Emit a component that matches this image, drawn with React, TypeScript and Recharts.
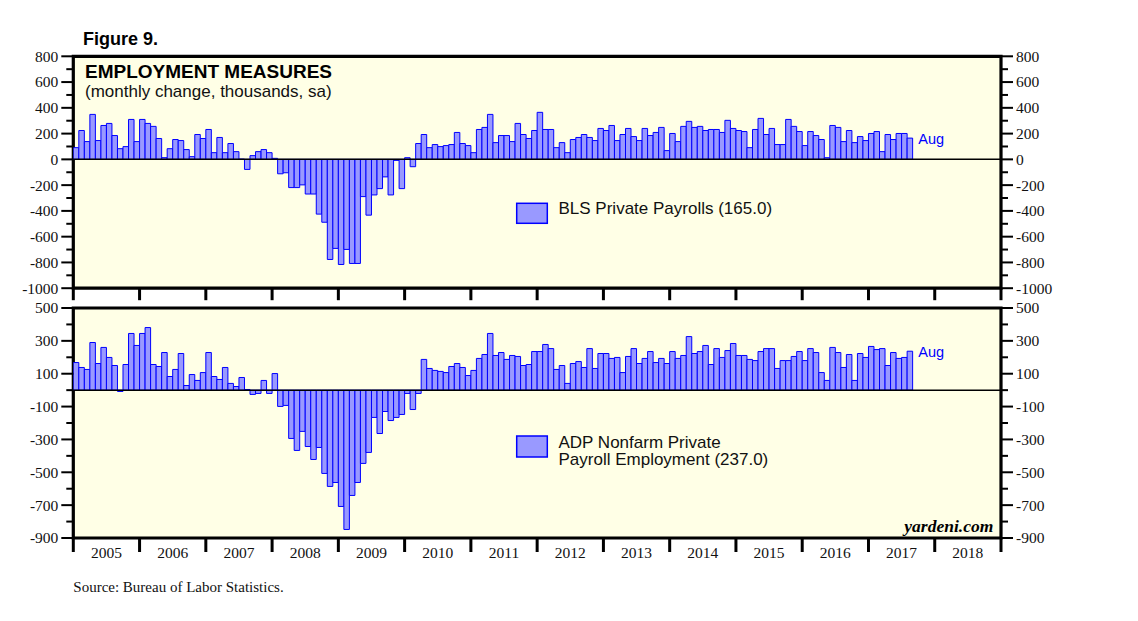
import { Bar, BarChart, ReferenceArea, ReferenceLine, XAxis, YAxis } from "recharts";

// monthly change, thousands, Jan 2005 .. Aug 2017
const START_YEAR = 2005;
const YEAR_TICKS = [2005, 2006, 2007, 2008, 2009, 2010, 2011, 2012, 2013, 2014, 2015, 2016, 2017, 2018, 2019];

const BLS = [
  91, 224, 138, 349, 146, 263, 279, 185, 83, 99, 310, 138,
  310, 279, 256, 162, 13, 83, 154, 146, 76, 21, 193, 162,
  232, 52, 170, 52, 123, 60, 2, -78, 29, 60, 76, 52,
  8, -112, -104, -219, -219, -198, -269, -269, -425, -488, -777, -691,
  -816, -699, -808, -808, -289, -433, -276, -227, -136, -276, -8, -227,
  13, -57, 123, 193, 91, 115, 99, 107, 115, 209, 123, 107,
  52, 232, 248, 349, 130, 185, 185, 138, 279, 193, 162, 224,
  365, 232, 232, 91, 130, 52, 154, 170, 193, 170, 146, 240,
  224, 263, 146, 193, 240, 177, 146, 240, 185, 209, 248, 68,
  201, 138, 256, 295, 248, 256, 224, 232, 232, 209, 303, 240,
  224, 216, 91, 232, 318, 193, 240, 115, 115, 310, 256, 216,
  107, 216, 185, 154, 13, 263, 248, 138, 224, 130, 177, 146,
  201, 216, 60, 193, 154, 201, 201, 165,
];

const ADP = [
  168, 138, 126, 290, 162, 260, 199, 150, -8, 156, 345, 272,
  345, 381, 156, 144, 229, 83, 126, 223, 28, 95, 59, 107,
  229, 83, 65, 138, 41, 22, 77, 4, -26, -20, 59, -20,
  101, -99, -93, -294, -367, -251, -343, -422, -349, -507, -586, -562,
  -708, -848, -641, -562, -446, -379, -166, -264, -130, -185, -166, -148,
  -20, -118, -20, 187, 132, 120, 114, 107, 144, 162, 138, 89,
  120, 193, 217, 345, 211, 229, 187, 211, 205, 150, 156, 235,
  235, 278, 253, 126, 150, 41, 162, 174, 138, 253, 132, 223,
  223, 193, 199, 107, 205, 253, 162, 193, 235, 168, 193, 162,
  235, 193, 211, 326, 223, 235, 272, 156, 253, 199, 241, 284,
  211, 211, 187, 180, 235, 253, 253, 132, 180, 180, 205, 235,
  180, 253, 229, 107, 59, 260, 229, 138, 217, 59, 223, 199,
  266, 247, 253, 150, 229, 193, 199, 237,
];

const BLS_TICKS = [-1000, -900, -800, -700, -600, -500, -400, -300, -200, -100, 0, 100, 200, 300, 400, 500, 600, 700, 800];
const BLS_LABELS = [-1000, -800, -600, -400, -200, 0, 200, 400, 600, 800];
const ADP_TICKS = [-900, -800, -700, -600, -500, -400, -300, -200, -100, 0, 100, 200, 300, 400, 500];
const ADP_LABELS = [-900, -700, -500, -300, -100, 100, 300, 500];

const W = 1138;
const H = 621;
const PLOT_L = 73.3;
const PLOT_R = 1001;
const YEAR_PX = (PLOT_R - PLOT_L) / 14;
const MONTH_PX = YEAR_PX / 12;
const X_AXIS_H = 20;

const SERIF = "'Liberation Serif', 'Times New Roman', serif";
const SANS = "'Liberation Sans', Arial, sans-serif";

const toRows = (vals: number[]) => vals.map((v, i) => ({ t: START_YEAR + (i + 0.5) / 12, v }));

function YTick(props: any) {
  const { y, payload, side, labels } = props;
  const major = labels.includes(payload.value);
  const x0 = side === "left" ? PLOT_L : PLOT_R;
  const dir = side === "left" ? -1 : 1;
  return (
    <g>
      <line x1={x0} x2={x0 + dir * (major ? 12 : 7)} y1={y} y2={y} stroke="#000" strokeWidth={2} />
      {major && (
        <text
          x={x0 + dir * 15}
          y={y}
          dy="0.35em"
          textAnchor={side === "left" ? "end" : "start"}
          fontFamily={SERIF}
          fontSize={15.5}
          fill="#111"
        >
          {payload.value}
        </text>
      )}
    </g>
  );
}

function XTick(props: any) {
  const { x, payload, bottom, len, showLabel } = props;
  return (
    <g>
      <line x1={x} x2={x} y1={bottom} y2={bottom + len} stroke="#000" strokeWidth={3} />
      {showLabel && payload.value < 2019 && (
        <text x={x + YEAR_PX / 2} y={558} textAnchor="middle" fontFamily={SERIF} fontSize={15.5} fill="#111">
          {payload.value}
        </text>
      )}
    </g>
  );
}

interface PanelProps {
  values: number[];
  domain: [number, number];
  ticks: number[];
  labels: number[];
  plotTop: number;
  plotBottom: number;
  tickLen: number;
  showYears: boolean;
}

function Panel({ values, domain, ticks, labels, plotTop, plotBottom, tickLen, showYears }: PanelProps) {
  return (
    <div style={{ position: "absolute", left: 0, top: 0 }}>
      <BarChart
        width={W}
        height={H}
        data={toRows(values)}
        margin={{ top: plotTop, bottom: H - plotBottom - X_AXIS_H, left: 0, right: 0 }}
        barCategoryGap={0}
        barGap={0}
      >
        <XAxis
          type="number"
          dataKey="t"
          domain={[2005, 2019]}
          ticks={YEAR_TICKS}
          interval={0}
          allowDataOverflow
          height={X_AXIS_H}
          axisLine={false}
          tickLine={false}
          tick={(p: any) => <XTick {...p} bottom={plotBottom} len={tickLen} showLabel={showYears} />}
        />
        <YAxis
          yAxisId="l"
          orientation="left"
          width={PLOT_L}
          type="number"
          domain={domain}
          ticks={ticks}
          interval={0}
          allowDataOverflow
          axisLine={false}
          tickLine={false}
          tick={(p: any) => <YTick {...p} side="left" labels={labels} />}
        />
        <YAxis
          yAxisId="r"
          orientation="right"
          width={W - PLOT_R}
          type="number"
          domain={domain}
          ticks={ticks}
          interval={0}
          allowDataOverflow
          axisLine={false}
          tickLine={false}
          tick={(p: any) => <YTick {...p} side="right" labels={labels} />}
        />
        <ReferenceArea yAxisId="l" x1={2005} x2={2019} y1={domain[0]} y2={domain[1]} fill="#FFFFE6" fillOpacity={1} />
        <ReferenceLine yAxisId="l" y={0} stroke="#000" strokeWidth={1.5} />
        <Bar
          yAxisId="l"
          dataKey="v"
          fill="#9999FF"
          stroke="#0000FF"
          strokeWidth={1}
          barSize={MONTH_PX - 0.01}
          isAnimationActive={false}
        />
        <ReferenceArea
          yAxisId="l"
          x1={2005}
          x2={2019}
          y1={domain[0]}
          y2={domain[1]}
          fill="none"
          stroke="#000"
          strokeWidth={3.2}
        />
      </BarChart>
    </div>
  );
}

export default function App() {
  return (
    <div style={{ position: "absolute", left: 0, top: 0, width: W, height: H, background: "#fff", overflow: "hidden" }}>
      <Panel
        values={BLS}
        domain={[-1000, 800]}
        ticks={BLS_TICKS}
        labels={BLS_LABELS}
        plotTop={56.3}
        plotBottom={288.2}
        tickLen={12}
        showYears={false}
      />
      <Panel
        values={ADP}
        domain={[-900, 500]}
        ticks={ADP_TICKS}
        labels={ADP_LABELS}
        plotTop={308}
        plotBottom={538}
        tickLen={14}
        showYears={true}
      />
      <svg width={W} height={H} style={{ position: "absolute", left: 0, top: 0, pointerEvents: "none" }}>
        <text x={83} y={45} fontFamily={SANS} fontWeight="bold" fontSize={18} fill="#000">
          Figure 9.
        </text>
        <text x={85} y={78.3} fontFamily={SANS} fontWeight="bold" fontSize={19} fill="#000">
          EMPLOYMENT MEASURES
        </text>
        <text x={85} y={96.5} fontFamily={SANS} fontSize={17} fill="#111">
          (monthly change, thousands, sa)
        </text>
        <rect x={516.7} y={203.3} width={30.6} height={20} fill="#9999FF" stroke="#0000FF" strokeWidth={1.5} />
        <text x={558.5} y={213.5} fontFamily={SANS} fontSize={17} fill="#111">
          BLS Private Payrolls (165.0)
        </text>
        <text x={918.3} y={144.3} fontFamily={SANS} fontSize={14.5} fill="#0000FF">
          Aug
        </text>
        <rect x={516.7} y={436} width={30.6} height={21} fill="#9999FF" stroke="#0000FF" strokeWidth={1.5} />
        <text x={558.5} y={447.7} fontFamily={SANS} fontSize={17} fill="#111">
          ADP Nonfarm Private
        </text>
        <text x={558.5} y={465} fontFamily={SANS} fontSize={17} fill="#111">
          Payroll Employment (237.0)
        </text>
        <text x={918.3} y={357.3} fontFamily={SANS} fontSize={14.5} fill="#0000FF">
          Aug
        </text>
        <text x={993.3} y={531.7} textAnchor="end" fontFamily={SERIF} fontWeight="bold" fontStyle="italic" fontSize={17.5} fill="#000">
          yardeni.com
        </text>
        <text x={73.3} y={591.5} fontFamily={SERIF} fontSize={15} fill="#111">
          Source: Bureau of Labor Statistics.
        </text>
      </svg>
    </div>
  );
}
